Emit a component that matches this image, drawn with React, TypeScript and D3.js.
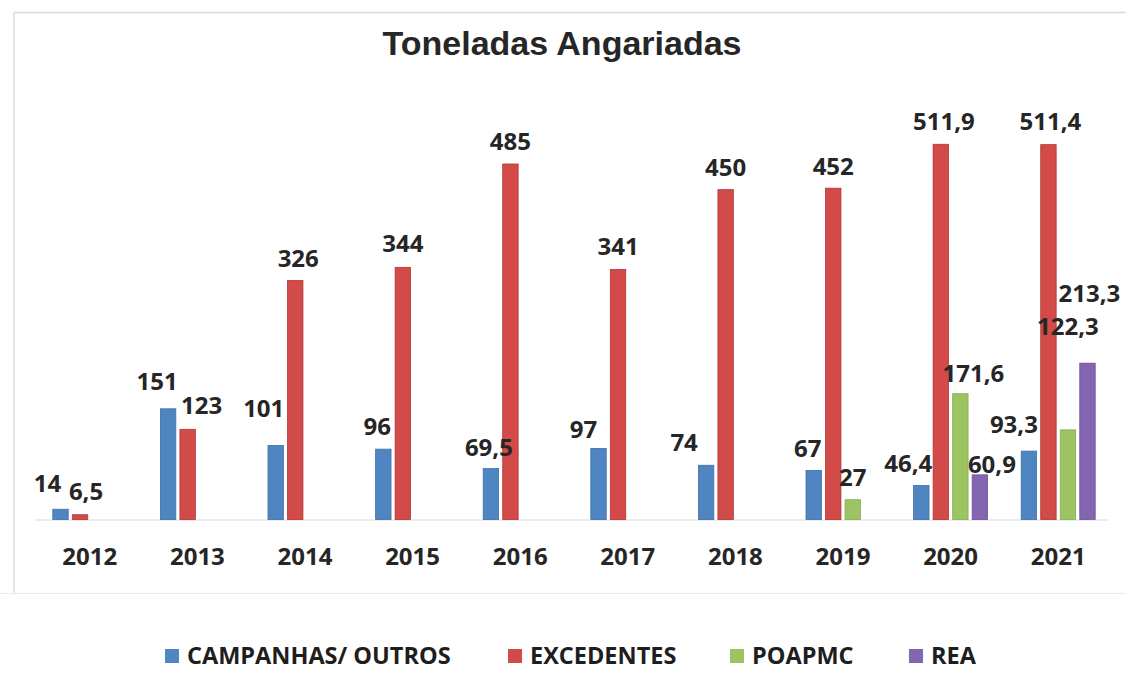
import React from "react";
import * as d3 from "d3";

const years = ["2012", "2013", "2014", "2015", "2016", "2017", "2018", "2019", "2020", "2021"];
const seriesNames = ["CAMPANHAS/ OUTROS", "EXCEDENTES", "POAPMC", "REA"];
const campanhas = [14, 151, 101, 96, 69.5, 97, 74, 67, 46.4, 93.3];
const excedentes = [6.5, 123, 326, 344, 485, 341, 450, 452, 511.9, 511.4];
const poapmc = [null, null, null, null, null, null, null, 27, 171.6, 122.3];
const rea = [null, null, null, null, null, null, null, null, 60.9, 213.3];
const seriesColors = ["#4F86C2", "#D24B49", "#9DC462", "#8466B0"];
const seriesStroke = ["#3f6fa3", "#b23533", "#86ab4e", "#6c5295"];

// label nudges: [dx, gap above bar top]
const labelNudge: Record<string, [number, number]> = {
  "0-2012": [-13, 17], "1-2012": [6, 15],
  "0-2013": [-11, 19], "1-2013": [14, 15],
  "0-2014": [-12, 28], "1-2014": [3, 14],
  "0-2015": [-6, 14], "1-2015": [0, 15],
  "0-2016": [-2, 13], "1-2016": [0, 14],
  "0-2017": [-15, 10], "1-2017": [0, 15],
  "0-2018": [-22, 14], "1-2018": [0, 14],
  "0-2019": [-6, 13], "1-2019": [0, 13], "2-2019": [0, 14],
  "0-2020": [-13, 13], "1-2020": [3, 14], "2-2020": [13, 12], "3-2020": [12, 2],
  "0-2021": [-15, 18], "1-2021": [2, 15], "2-2021": [0, 95], "3-2021": [2, 61],
};

const W = 1126;
const H = 691;

export default function App() {
  const allSeries = [campanhas, excedentes, poapmc, rea];
  const x = d3.scaleBand<string>().domain(years).range([36, 1112]).paddingInner(0).paddingOuter(0);
  const xi = d3
    .scaleBand<number>()
    .domain([0, 1, 2, 3])
    .range([-37, 37])
    .paddingInner(0.21)
    .paddingOuter(0);
  const y = d3.scaleLinear().domain([0, 600]).range([519.5, 79.7]);
  const fmt = (v: number) => String(v).replace(".", ",");
  const font = "'Open Sans', 'DejaVu Sans', sans-serif";

  const legendX = [165, 508, 730, 909];

  const marks: { yr: string; k: number; v: number; bx: number; top: number }[] = [];
  years.forEach((yr, i) => {
    const cx = (x(yr) as number) + x.bandwidth() / 2;
    allSeries.forEach((s, k) => {
      const v = s[i];
      if (v == null) return;
      marks.push({ yr, k, v, bx: cx + (xi(k) as number), top: y(v) });
    });
  });

  return (
    <svg
      width={W}
      height={H}
      style={{ position: "absolute", left: 0, top: 0, background: "#fff" }}
    >
      <rect x={0} y={0} width={W} height={H} fill="#fff" />
      <line x1={14} x2={W} y1={12.5} y2={12.5} stroke="#dcdcdc" strokeWidth={1.5} />
      <line x1={14} x2={14} y1={12.5} y2={593} stroke="#dcdcdc" strokeWidth={1.5} />
      <line x1={0} x2={W} y1={593.5} y2={593.5} stroke="#ececec" strokeWidth={1} />

      <text
        x={562}
        y={55}
        textAnchor="middle"
        fontFamily="'Liberation Sans', Arial, sans-serif"
        fontWeight="bold"
        fontSize={34}
        fill="#262626"
      >
        Toneladas Angariadas
      </text>

      <line x1={35} x2={1108} y1={520} y2={520} stroke="#d9d9d9" strokeWidth={1.2} />

      {marks.map((m) => (
        <rect
          key={`b-${m.k}-${m.yr}`}
          x={m.bx}
          y={m.top}
          width={xi.bandwidth()}
          height={y(0) - m.top}
          fill={seriesColors[m.k]}
          stroke={seriesStroke[m.k]}
          strokeWidth={0.8}
        />
      ))}

      {marks.map((m) => {
        const nudge = labelNudge[`${m.k}-${m.yr}`] || [0, 14];
        return (
          <text
            key={`l-${m.k}-${m.yr}`}
            x={m.bx + xi.bandwidth() / 2 + nudge[0]}
            y={m.top - nudge[1]}
            textAnchor="middle"
            fontFamily={font}
            fontWeight="bold"
            fontSize={24}
            fill="#262626"
          >
            {fmt(m.v)}
          </text>
        );
      })}

      {years.map((yr) => (
        <text
          key={yr}
          x={(x(yr) as number) + x.bandwidth() / 2}
          y={565}
          textAnchor="middle"
          fontFamily={font}
          fontWeight="bold"
          fontSize={24}
          fill="#262626"
        >
          {yr}
        </text>
      ))}

      {seriesNames.map((name, k) => (
        <g key={name}>
          <rect x={legendX[k]} y={649} width={14} height={14} fill={seriesColors[k]} />
          <text
            x={legendX[k] + 22}
            y={664}
            fontFamily={font}
            fontWeight="bold"
            fontSize={23.5}
            fill="#1e1e1e"
          >
            {name}
          </text>
        </g>
      ))}
    </svg>
  );
}
